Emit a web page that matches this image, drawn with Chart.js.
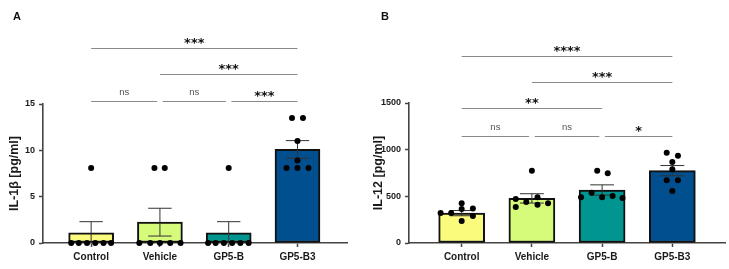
<!DOCTYPE html>
<html>
<head>
<meta charset="utf-8">
<script src="https://cdn.jsdelivr.net/npm/chart.js@4/dist/chart.umd.min.js"></script>
<style>
  body { margin: 0; background: #fff; }
  #wrap { position: relative; width: 729px; height: 269px; overflow: hidden; }
  canvas { position: absolute; top: 0; }
  .panel-label { position: absolute; top: 10px; font: bold 11px "Liberation Sans", Arial, sans-serif; color: #111; }
</style>
</head>
<body>
<div id="wrap">
  <canvas id="chartA" width="364" height="269" style="left:0"></canvas>
  <canvas id="chartB" width="365" height="269" style="left:364px"></canvas>
  <div class="panel-label" style="left:13px">A</div>
  <div class="panel-label" style="left:381px">B</div>
</div>
<script>
const categories = ["Control", "Vehicle", "GP5-B", "GP5-B3"];
const barColors = ["#fafa7d", "#d6fa7a", "#00968f", "#024f8f"];

// panel A: IL-1β
const meansA = [1.1, 2.25, 1.1, 10.1];
const semA = [1.2, 1.5, 1.2, 0.95];
const pointsA = [
  [0, 0, 0, 0, 0, 0, 8.1],
  [0, 0, 0, 0, 0, 8.1, 8.1],
  [0, 0, 0, 0, 0, 0, 8.1],
  [13.5, 13.5, 11.0, 8.9, 8.1, 8.1, 8.1],
];
const jitterA = [
  [-0.29, -0.18, -0.06, 0.06, 0.18, 0.29, 0],
  [-0.3, -0.14, 0, 0.15, 0.3, -0.08, 0.07],
  [-0.3, -0.19, -0.07, 0.05, 0.17, 0.29, 0],
  [-0.08, 0.08, 0, 0, -0.16, 0, 0.16],
];
const yTicksA = [0, 5, 10, 15];
const bracketsA = [
  { from: 0, to: 0.96, y: 15.32, label: "ns" },
  { from: 1.04, to: 1.96, y: 15.32, label: "ns" },
  { from: 2.04, to: 3, y: 15.32, label: "***" },
  { from: 1, to: 3, y: 18.25, label: "***" },
  { from: 0, to: 3, y: 21.04, label: "***" },
];

// panel B: IL-12
const meansB = [320, 478, 568, 775];
const semB = [28, 50, 55, 55];
const pointsB = [
  [425, 322, 322, 365, 370, 290, 235],
  [775, 471, 439, 489, 411, 425, 386],
  [775, 746, 539, 489, 504, 489, 482],
  [968, 936, 868, 789, 671, 671, 557],
];
const jitterB = [
  [0, -0.3, -0.15, 0, 0.16, 0.16, 0],
  [0, -0.23, -0.08, 0.08, 0.08, 0.23, -0.23],
  [-0.07, 0.08, -0.15, 0, 0.15, -0.3, 0.29],
  [-0.08, 0.08, 0, 0, -0.08, 0.08, 0],
];
const yTicksB = [0, 500, 1000, 1500];
const bracketsB = [
  { from: 0, to: 0.96, y: 1146, label: "ns" },
  { from: 1.04, to: 1.96, y: 1146, label: "ns" },
  { from: 2.04, to: 3, y: 1146, label: "*" },
  { from: 0, to: 2, y: 1443, label: "**" },
  { from: 1, to: 3, y: 1728, label: "***" },
  { from: 0, to: 3, y: 2004, label: "****" },
];

const axisColor = "#444";

const errorBars = {
  id: "errorBars",
  beforeDatasetDraw(chart, args, opts) {
    if (args.index !== 1) return;
    const { ctx, scales: { x, y } } = chart;
    ctx.save();
    ctx.strokeStyle = "#333";
    ctx.lineWidth = 1;
    opts.means.forEach((m, i) => {
      const cx = x.getPixelForValue(i);
      const half = x.getPixelForValue(i + 0.17) - cx;
      const top = y.getPixelForValue(m + opts.sem[i]);
      const low = m - opts.sem[i];
      const bot = y.getPixelForValue(Math.max(0, low));
      ctx.beginPath();
      ctx.moveTo(cx, top);
      ctx.lineTo(cx, bot);
      ctx.moveTo(cx - half, top);
      ctx.lineTo(cx + half, top);
      if (low > 0) {
        ctx.moveTo(cx - half, bot);
        ctx.lineTo(cx + half, bot);
      }
      ctx.stroke();
    });
    ctx.restore();
  },
};

const sigBrackets = {
  id: "sigBrackets",
  afterDraw(chart, args, opts) {
    const { ctx, scales: { x, y } } = chart;
    ctx.save();
    opts.items.forEach((b) => {
      const x0 = x.getPixelForValue(b.from);
      const x1 = x.getPixelForValue(b.to);
      const ly = Math.round(y.getPixelForValue(b.y)) + 0.5;
      ctx.strokeStyle = "#8a8a8a";
      ctx.lineWidth = 1;
      ctx.beginPath();
      ctx.moveTo(x0, ly);
      ctx.lineTo(x1, ly);
      ctx.stroke();
      const mid = (x0 + x1) / 2;
      ctx.textAlign = "center";
      ctx.textBaseline = "alphabetic";
      if (b.label === "ns") {
        ctx.font = '9.5px "Liberation Sans", Arial, sans-serif';
        ctx.fillStyle = "#555";
        ctx.fillText(b.label, mid, ly - 6.5);
      } else {
        ctx.font = 'bold 13px "DejaVu Sans", sans-serif';
        ctx.fillStyle = "#111";
        ctx.fillText(b.label, mid, ly - 2);
      }
    });
    ctx.restore();
  },
};

function makeChart(id, o) {
  const bars = categories.map((c, i) => ({ x: i, y: o.means[i] }));
  const dots = [];
  o.points.forEach((vals, i) => {
    vals.forEach((v, k) => dots.push({ x: i + o.jitter[i][k], y: v }));
  });

  return new Chart(document.getElementById(id), {
    type: "bar",
    data: {
      datasets: [
        {
          type: "bar",
          data: bars,
          backgroundColor: barColors,
          borderColor: "#111",
          borderWidth: 2,
          borderSkipped: false,
          barThickness: o.barWidth,
          order: 2,
        },
        {
          type: "scatter",
          data: dots,
          pointRadius: 3,
          pointBackgroundColor: "#000",
          pointBorderWidth: 0,
          clip: false,
          order: 1,
        },
      ],
    },
    options: {
      responsive: false,
      animation: false,
      devicePixelRatio: 1,
      layout: { padding: { top: o.top, right: o.right, bottom: 0, left: 0 } },
      plugins: {
        legend: { display: false },
        tooltip: { enabled: false },
        errorBars: { means: o.means, sem: o.sem },
        sigBrackets: { items: o.brackets },
      },
      scales: {
        x: {
          type: "linear",
          offset: false,
          min: o.xMin,
          max: o.xMax,
          afterBuildTicks: (s) => {
            s.ticks = categories.map((c, i) => ({ value: i }));
          },
          afterFit: (s) => { s.height = 26; },
          border: { display: true, color: axisColor, width: 1.6 },
          grid: { offset: false, drawOnChartArea: false, drawTicks: true, tickLength: 4, tickColor: axisColor, tickWidth: 1.5 },
          ticks: {
            autoSkip: false,
            maxRotation: 0,
            padding: 4,
            color: "#1a1a1a",
            font: { family: '"Liberation Sans", Arial, sans-serif', size: 10, weight: "bold" },
            callback: (v) => categories[v],
          },
        },
        y: {
          min: 0,
          max: o.yTicks[o.yTicks.length - 1],
          afterBuildTicks: (s) => {
            s.ticks = o.yTicks.map((v) => ({ value: v }));
          },
          afterFit: (s) => { s.width = o.yWidth; },
          border: { display: true, color: axisColor, width: 1.6 },
          grid: { drawOnChartArea: false, drawTicks: true, tickLength: 4, tickColor: axisColor, tickWidth: 1.5 },
          ticks: {
            padding: 4,
            color: "#1a1a1a",
            font: { family: '"Liberation Sans", Arial, sans-serif', size: 9, weight: "bold" },
            callback: (v) => String(v),
          },
          title: {
            display: true,
            text: o.yTitle,
            color: "#1a1a1a",
            padding: { top: 7, bottom: 0 },
            font: { family: '"Liberation Sans", Arial, sans-serif', size: 12.5, weight: "bold" },
          },
        },
      },
    },
    plugins: [errorBars, sigBrackets],
  });
}

makeChart("chartA", {
  means: meansA, sem: semA, points: pointsA, jitter: jitterA,
  yTicks: yTicksA, brackets: bracketsA, yTitle: "IL-1β [pg/ml]",
  xMin: -0.7, xMax: 3.72, top: 104, right: 17, yWidth: 43, barWidth: 45,
});

makeChart("chartB", {
  means: meansB, sem: semB, points: pointsB, jitter: jitterB,
  yTicks: yTicksB, brackets: bracketsB, yTitle: "IL-12 [pg/ml]",
  xMin: -0.75, xMax: 3.75, top: 103, right: 2, yWidth: 45, barWidth: 46,
});
</script>
</body>
</html>
